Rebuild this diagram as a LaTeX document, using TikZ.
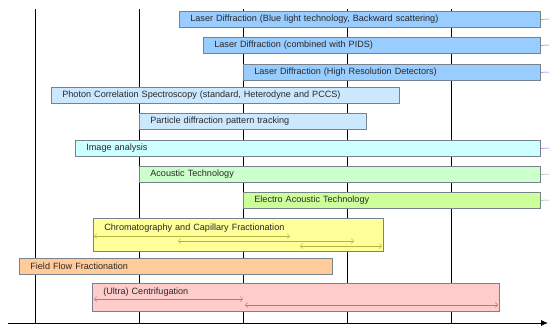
\documentclass[tikz,border=0pt]{standalone}
\usepackage{fontspec}
\setmainfont{Liberation Sans}
\usetikzlibrary{arrows.meta,calc}
\definecolor{barline}{RGB}{120,130,140}
\definecolor{txt}{RGB}{40,40,40}
\definecolor{laserfill}{RGB}{153,204,255}
\definecolor{pcsfill}{RGB}{204,232,255}
\definecolor{imgfill}{RGB}{204,255,255}
\definecolor{acfill}{RGB}{204,255,204}
\definecolor{elfill}{RGB}{204,255,153}
\definecolor{chromfill}{RGB}{255,255,153}
\definecolor{fffill}{RGB}{255,204,153}
\definecolor{cenfill}{RGB}{255,204,204}
\definecolor{chromarrow}{RGB}{180,180,70}
\definecolor{cenarrow}{RGB}{205,110,110}
\definecolor{bluetail}{RGB}{110,110,220}
\definecolor{greentail}{RGB}{120,190,110}
\begin{document}
\begin{tikzpicture}[x=1pt,y=-1pt,
  bar/.style={draw=barline, line width=0.7pt, anchor=north west, inner xsep=11pt, inner ysep=0pt,
    minimum height=16pt, text=txt, align=left, font=\fontsize{9.1}{10}\selectfont},
  grid/.style={line width=0.9pt, black},
  tail/.style={line width=0.5pt},
  inarrow/.style={line width=0.5pt, {Straight Barb[length=2.5pt,width=5pt]}-{Straight Barb[length=2.5pt,width=5pt]}}
]
\useasboundingbox (0,0) rectangle (549,327);
% grid lines
\coordinate (ax0) at (8,323);
\coordinate (ax1) at (548,323);
\foreach \gx [count=\i] in {35,139,243,347,451}{
  \coordinate (gt\i) at (\gx,9);
  \coordinate (gb\i) at (\gx,323);
  \draw[grid] (gt\i) -- (gb\i);
}
\draw[line width=0.9pt,-{Latex[length=7pt,width=6pt]}] (ax0) -- (ax1);
% bars
\node[bar, fill=laserfill, text width=339pt] (la) at (179,11) {Laser Diffraction (Blue light technology, Backward scattering)};
\node[bar, fill=laserfill, text width=315pt] (lb) at (203,37) {Laser Diffraction (combined with PIDS)};
\node[bar, fill=laserfill, text width=275pt] (lc) at (243,64) {Laser Diffraction (High Resolution Detectors)};
\node[bar, fill=pcsfill, text width=326pt] (pcs) at (51,87) {Photon Correlation Spectroscopy (standard, Heterodyne and PCCS)};
\node[bar, fill=pcsfill, text width=205pt] (pd) at (139,113) {Particle diffraction pattern tracking};
\node[bar, fill=imgfill, text width=443pt] (img) at (75,140) {Image analysis};
\node[bar, fill=acfill, text width=379pt] (ac) at (139,166) {Acoustic Technology};
\node[bar, fill=elfill, text width=275pt] (el) at (243,192) {Electro Acoustic Technology};
\node[bar, fill=chromfill, text width=268pt, minimum height=0pt, text height=12.5pt, text depth=20.5pt] (ch) at (93,218) {Chromatography and Capillary Fractionation};
\node[bar, fill=fffill, text width=291pt] (ff) at (19,258) {Field Flow Fractionation};
\node[bar, fill=cenfill, text width=385pt, minimum height=0pt, text height=11.5pt, text depth=16.5pt] (ce) at (92,283) {(Ultra) Centrifugation};
% tails to the right edge
\coordinate (tla) at (549,19);
\coordinate (tlb) at (549,45);
\coordinate (tlc) at (549,72);
\coordinate (timg) at (549,148);
\coordinate (tac) at (549,174);
\coordinate (tel) at (549,200);
\draw[tail, bluetail] (la.east) -- (tla);
\draw[tail, bluetail] (lb.east) -- (tlb);
\draw[tail, bluetail] (lc.east) -- (tlc);
\draw[tail, bluetail!70!magenta] (img.east) -- (timg);
\draw[tail, greentail] (ac.east) -- (tac);
\draw[tail, greentail] (el.east) -- (tel);
% inner arrows chromatography
\coordinate (c1a) at (94,236); \coordinate (c1b) at (290,236);
\coordinate (c2a) at (178,241); \coordinate (c2b) at (354,241);
\coordinate (c3a) at (300,246); \coordinate (c3b) at (382,246);
\draw[inarrow, chromarrow] (c1a) -- (c1b);
\draw[inarrow, chromarrow] (c2a) -- (c2b);
\draw[inarrow, chromarrow] (c3a) -- (c3b);
% inner arrows centrifugation
\coordinate (u1a) at (94,299); \coordinate (u1b) at (243,299);
\coordinate (u2a) at (245,305); \coordinate (u2b) at (498,305);
\draw[inarrow, cenarrow] (u1a) -- (u1b);
\draw[inarrow, cenarrow] (u2a) -- (u2b);
\end{tikzpicture}
\end{document}
